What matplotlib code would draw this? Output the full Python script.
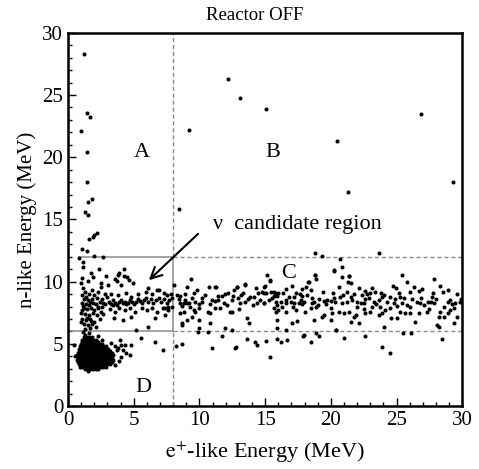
import matplotlib
matplotlib.use("Agg")
import matplotlib.pyplot as plt

plt.rcParams["font.family"] = ["Liberation Serif", "DejaVu Serif"]
plt.rcParams["mathtext.fontset"] = "stix"

# ---- event lists: (e+-like energy, n-like energy) in MeV ----
high_a_points = [
    (1.24, 28.3), (1.47, 23.55), (1.68, 23.2), (0.97, 22.15), (1.47, 20.45),
    (1.42, 18.0), (1.5, 16.4), (1.8, 16.65), (1.3, 15.6), (1.55, 15.35),
    (2.18, 13.95), (2.0, 13.75), (1.88, 13.57), (1.62, 13.4),
    (1.04, 12.6), (1.47, 12.5), (2.0, 12.07), (2.69, 11.96),
    (0.86, 11.88), (1.12, 11.56), (1.17, 11.2),
]

high_b_points = [
    (12.2, 26.3), (13.05, 24.8), (15.08, 23.9), (26.86, 23.5), (9.2, 22.2),
    (20.5, 21.3), (29.3, 18.0), (21.3, 17.2), (8.48, 15.85),
    (18.81, 12.34), (19.32, 12.07), (23.63, 12.34), (20.72, 11.8),
    (20.84, 11.21), (20.26, 10.94),
]

band_a_points = [
    (2.39, 11.0), (4.26, 11.0), (2.9, 10.46), (3.83, 10.54), (4.47, 10.35),
    (1.04, 10.27), (1.5, 10.08), (3.71, 10.08), (1.9, 10.4), (1.78, 10.67),
    (2.54, 9.87), (3.05, 9.73), (3.55, 10.19), (3.86, 10.67), (4.06, 9.73),
    (4.26, 10.46), (4.64, 10.14), (4.97, 9.87), (6.12, 9.52), (6.75, 9.33),
    (1.0, 9.9), (1.15, 9.5), (1.3, 9.2), (1.05, 8.9), (1.4, 8.8), (1.6, 9.0),
    (1.25, 8.6), (1.5, 8.5), (1.8, 8.6), (2.0, 8.9), (2.2, 8.7), (1.1, 8.3),
    (1.35, 8.2), (1.6, 8.1), (1.9, 8.3), (2.1, 8.2), (2.4, 8.4), (2.6, 8.6),
    (1.2, 7.9), (1.45, 7.8), (1.75, 7.9), (2.0, 7.7), (2.3, 7.9), (2.55, 8.0),
    (2.8, 8.2), (1.0, 7.5), (1.3, 7.4), (1.6, 7.3), (1.9, 7.5), (2.2, 7.3),
    (2.5, 7.6), (1.1, 7.0), (1.4, 6.9), (1.7, 7.0), (2.0, 6.8), (2.4, 7.0),
    (1.2, 6.6), (1.5, 6.5), (1.8, 6.6), (1.3, 6.2), (1.65, 6.25), (2.1, 6.4),
    (0.95, 6.8), (2.7, 7.4), (1.85, 9.3), (2.3, 9.2), (2.5, 9.6), (2.8, 9.0),
    (3.0, 8.8),
    (3.1, 8.4), (3.25, 8.2), (3.4, 8.5), (3.55, 8.3), (3.7, 8.1), (3.85, 8.35),
    (4.0, 8.5), (4.15, 8.25), (4.3, 8.4), (4.45, 8.2), (4.6, 8.3), (4.75, 8.5),
    (4.9, 8.35), (5.05, 8.2), (5.2, 8.4), (5.35, 8.6), (5.5, 8.45), (5.65, 8.3),
    (5.8, 8.5), (5.95, 8.7), (6.1, 8.4), (6.3, 8.6), (6.5, 8.3), (6.7, 8.5),
    (6.9, 8.7), (7.1, 8.4), (7.3, 8.6), (7.5, 8.3), (7.7, 8.5), (7.9, 8.7),
    (3.2, 7.8), (3.6, 7.6), (3.9, 7.9), (4.3, 7.7), (4.7, 7.9), (5.1, 7.6),
    (5.6, 7.9), (6.0, 7.7), (6.4, 7.9), (6.8, 7.6), (7.2, 7.9), (7.6, 7.7),
    (3.3, 9.0), (3.8, 8.9), (4.4, 9.1), (4.8, 8.8), (5.3, 9.0), (5.9, 9.2),
    (6.4, 9.0), (6.9, 9.3), (7.3, 9.1), (7.8, 9.0),
    (3.5, 7.1), (4.2, 6.9), (4.8, 7.2), (6.6, 7.1), (7.4, 7.3), (5.2, 6.1),
    (6.1, 6.4), (1.15, 8.05), (1.7, 8.35), (2.25, 8.0), (1.45, 7.1),
    (1.75, 6.85), (1.05, 7.7), (2.65, 8.3), (3.45, 8.1),
]

band_c_points = [
    (9.37, 10.19), (8.10, 9.73), (9.04, 9.55), (10.74, 9.55), (11.15, 9.55),
    (11.25, 9.55), (12.85, 9.55), (13.48, 9.73), (15.0, 9.65), (11.96, 9.01),
    (12.21, 9.12), (13.35, 9.12), (13.18, 8.93), (14.45, 9.12), (14.75, 9.2),
    (13.86, 8.8), (14.19, 8.8), (12.59, 8.85), (12.47, 8.53), (11.45, 8.85),
    (11.71, 8.85), (10.94, 8.53), (11.15, 8.47), (11.45, 8.53), (10.18, 8.66),
    (10.23, 8.34), (9.42, 8.66), (9.67, 8.39), (9.93, 8.21), (8.91, 8.53),
    (9.04, 8.26), (9.17, 8.26), (9.29, 7.99), (8.41, 8.58), (8.53, 8.26),
    (8.79, 8.26), (8.66, 8.04), (7.52, 8.93), (7.39, 7.86), (7.64, 7.99),
    (7.9, 7.94), (8.28, 8.93), (8.53, 8.85), (8.53, 7.45), (8.79, 7.59),
    (9.55, 7.72), (9.67, 7.59), (8.66, 6.65), (9.42, 7.19), (9.93, 6.92),
    (10.69, 7.59), (10.82, 7.45), (11.58, 7.86), (12.34, 7.59), (12.47, 7.59),
    (13.1, 8.26), (13.48, 8.39), (11.96, 6.25), (13.61, 7.05), (13.74, 6.65),
    (14.37, 8.26), (14.95, 8.26), (9.93, 6.25), (10.82, 6.7), (12.47, 6.11),
    (8.66, 6.5), (9.05, 6.9),
    (15.13, 10.54), (15.39, 10.08), (18.81, 10.54), (18.89, 10.19), (18.3, 10.0),
    (21.35, 10.46), (21.27, 10.0), (13.48, 9.82), (12.85, 9.55), (14.88, 9.12),
    (15.64, 9.2),
    (18.79, 10.54), (20.24, 10.89), (20.82, 10.35), (21.38, 10.46),
    (15.34, 10.14), (18.33, 10.0), (21.5, 9.87), (17.06, 9.65), (18.08, 9.6),
    (18.46, 9.33), (14.91, 9.55), (15.03, 9.06), (15.41, 9.2), (15.74, 9.12),
    (16.0, 9.12), (16.35, 9.12), (15.67, 8.85), (15.92, 8.85), (17.32, 9.12),
    (17.62, 9.01), (17.83, 8.85), (17.19, 8.8), (14.91, 8.26), (15.29, 8.53),
    (15.8, 8.39), (15.92, 8.13), (16.56, 8.53), (16.61, 8.26), (16.94, 8.39),
    (17.19, 8.26), (17.57, 8.31), (17.83, 8.21), (17.95, 8.39), (18.59, 8.66),
    (18.54, 8.26), (18.71, 8.39), (18.84, 7.99), (18.46, 7.86), (19.48, 8.47),
    (19.73, 8.53), (19.98, 8.47), (20.24, 8.66), (20.16, 9.06), (20.62, 9.6),
    (20.67, 8.8), (20.87, 8.26), (21.25, 8.39), (21.5, 8.8), (21.76, 9.01),
    (22.14, 9.47), (22.01, 8.39), (22.27, 8.26), (15.67, 7.86), (15.8, 7.59),
    (16.56, 7.59), (17.32, 7.72), (16.3, 7.94), (19.35, 7.19), (19.48, 7.32),
    (19.98, 7.86), (20.11, 7.45), (20.62, 7.59), (21.0, 7.45), (21.38, 7.59),
    (21.76, 7.19), (15.92, 6.92), (17.06, 6.65), (17.45, 6.87), (18.71, 6.92),
    (19.98, 6.92), (21.5, 6.79), (21.89, 7.32), (15.92, 6.25), (16.56, 6.11),
    (18.84, 5.85), (20.36, 6.11), (22.14, 6.65), (17.95, 5.71),
    (25.41, 10.54), (27.87, 10.19), (25.79, 10.0), (24.73, 9.65), (24.98, 9.47),
    (26.3, 9.55), (26.94, 9.39), (26.68, 9.28), (28.28, 9.65), (28.53, 9.2),
    (22.62, 9.28), (23.0, 9.12), (23.38, 9.2), (23.81, 9.12), (24.02, 8.93),
    (22.37, 8.93), (22.75, 9.01), (25.16, 9.12), (25.24, 8.8), (24.52, 8.8),
    (27.77, 9.06), (27.7, 8.8), (27.62, 8.39), (27.82, 8.26), (29.6, 9.01),
    (29.85, 8.39), (29.47, 8.26), (28.89, 8.39), (29.04, 8.53), (22.62, 8.58),
    (23.26, 8.39), (23.64, 8.53), (22.49, 8.26), (23.13, 7.99), (24.78, 8.26),
    (25.03, 8.04), (25.41, 8.26), (25.79, 8.13), (26.05, 7.99), (26.55, 8.39),
    (26.81, 8.26), (27.06, 8.13), (23.76, 7.99), (24.14, 7.72), (22.62, 7.45),
    (23.0, 7.59), (23.64, 7.32), (23.89, 7.51), (25.29, 7.59), (25.67, 7.45),
    (26.0, 7.51), (26.68, 7.45), (27.32, 7.59), (28.33, 7.59), (28.89, 7.51),
    (29.09, 7.72), (29.6, 7.19), (28.2, 7.19), (28.59, 7.13), (24.57, 7.05),
    (25.03, 7.05), (26.43, 6.79), (28.08, 6.52), (29.35, 6.7), (24.07, 6.38),
    (28.2, 6.38), (25.49, 5.9), (26.12, 5.9),
    (8.9, 9.0), (9.6, 9.1), (10.4, 8.9), (10.8, 8.2), (11.9, 8.3), (12.1, 8.1),
    (12.9, 8.7), (13.7, 8.6), (14.1, 8.1), (14.6, 8.5), (15.5, 8.7),
    (16.2, 8.4), (16.8, 8.8), (17.1, 8.0), (17.7, 8.5), (18.2, 8.9),
    (19.1, 8.6), (19.6, 8.2), (20.3, 8.4), (20.9, 8.9), (21.6, 8.5),
    (22.0, 8.0), (22.9, 8.7), (23.4, 8.2), (23.9, 8.8), (24.3, 8.4),
    (24.9, 8.6), (25.6, 8.7), (26.2, 8.6), (26.9, 8.7), (27.4, 8.4),
    (28.0, 8.6), (28.6, 8.0), (29.2, 8.2), (29.9, 8.6), (10.0, 7.9),
    (11.2, 7.9), (13.0, 7.8), (16.0, 7.7), (18.0, 7.6), (19.0, 8.1),
    (22.5, 7.8), (24.5, 7.9), (27.5, 7.8), (29.4, 7.9), (9.8, 9.3),
    (12.6, 9.3), (16.6, 9.4), (19.4, 9.2), (23.1, 9.5), (26.0, 9.2),
    (28.9, 9.3), (21.2, 9.2), (14.3, 9.5), (17.8, 9.4),
]

low_points = [
    (8.2, 4.83), (8.66, 4.96), (10.94, 4.69), (11.7, 5.63), (12.72, 4.69),
    (13.61, 5.39), (14.24, 5.18), (14.37, 4.91), (15.03, 5.26), (15.92, 5.36),
    (16.18, 5.18), (18.46, 5.18), (21.0, 5.44), (15.34, 3.92), (22.62, 5.63),
    (23.89, 4.72), (24.52, 4.29), (28.46, 5.36), (12.8, 4.72), (16.65, 5.31),
    (17.92, 5.63), (19.07, 5.63), (20.41, 6.1), (9.9, 5.98), (10.66, 5.98),
    (3.93, 5.31), (4.06, 4.91), (4.82, 4.91), (5.58, 5.44), (6.65, 5.18),
    (7.23, 4.5),
]

# dense low-energy cluster, listed row by row: n-like energy and the
# e+-like energies recorded at it
blob_row_energies = [3.0, 3.18, 3.36, 3.54, 3.72, 3.9, 4.08, 4.26, 4.44,
                     4.62, 4.8, 4.98, 5.16, 5.34, 5.52]
blob_row_positrons = [
    [1.3, 1.5, 1.7, 1.9, 2.1, 2.3],
    [0.9, 1.1, 1.3, 1.5, 1.7, 1.9, 2.1, 2.3, 2.5, 2.7, 2.9],
    [0.8, 1.0, 1.2, 1.4, 1.6, 1.8, 2.0, 2.2, 2.4, 2.6, 2.8, 3.0, 3.2],
    [0.75, 0.95, 1.15, 1.35, 1.55, 1.75, 1.95, 2.15, 2.35, 2.55, 2.75,
     2.95, 3.15, 3.35],
    [0.7, 0.9, 1.1, 1.3, 1.5, 1.7, 1.9, 2.1, 2.3, 2.5, 2.7, 2.9, 3.1,
     3.3, 3.45],
    [0.75, 0.95, 1.15, 1.35, 1.55, 1.75, 1.95, 2.15, 2.35, 2.55, 2.75,
     2.95, 3.15, 3.35],
    [0.7, 0.9, 1.1, 1.3, 1.5, 1.7, 1.9, 2.1, 2.3, 2.5, 2.7, 2.9, 3.1,
     3.3, 3.45],
    [0.75, 0.95, 1.15, 1.35, 1.55, 1.75, 1.95, 2.15, 2.35, 2.55, 2.75,
     2.95, 3.15, 3.35],
    [0.8, 1.0, 1.2, 1.4, 1.6, 1.8, 2.0, 2.2, 2.4, 2.6, 2.8, 3.0, 3.2],
    [0.85, 1.05, 1.25, 1.45, 1.65, 1.85, 2.05, 2.25, 2.45, 2.65, 2.85, 3.05],
    [0.9, 1.1, 1.3, 1.5, 1.7, 1.9, 2.1, 2.3, 2.5, 2.7, 2.9],
    [1.0, 1.2, 1.4, 1.6, 1.8, 2.0, 2.2, 2.4, 2.6],
    [1.05, 1.25, 1.45, 1.65, 1.85, 2.05, 2.25],
    [1.1, 1.3, 1.5, 1.7, 1.9, 2.1],
    [1.2, 1.4, 1.6, 1.8],
]

blob_fringe_points = [
    (3.81, 4.67), (4.19, 4.5), (4.44, 4.24), (4.7, 4.1), (4.06, 3.97),
    (4.31, 4.91), (0.45, 4.9), (0.5, 4.0), (3.6, 3.3), (3.7, 4.5),
    (3.55, 4.85), (1.3, 5.75), (1.6, 5.85), (2.3, 5.6), (1.15, 5.95),
    (1.55, 2.85), (2.6, 5.3), (3.3, 5.1), (3.9, 3.6),
]

x_ticks = [0, 5, 10, 15, 20, 25, 30]
y_ticks = [0, 5, 10, 15, 20, 25, 30]

fig = plt.figure(figsize=(4.79, 4.69), dpi=100)
ax = fig.add_axes([0.142, 0.134, 0.823, 0.796])

blob_points = [(x, y) for y, row in zip(blob_row_energies, blob_row_positrons)
               for x in row]

all_groups = [high_a_points, high_b_points, band_a_points, band_c_points,
              low_points, blob_points, blob_fringe_points]
for group in all_groups:
    xs = [p[0] for p in group]
    ys = [p[1] for p in group]
    ax.scatter(xs, ys, s=8.5, c="black", linewidths=0, zorder=3)

# region boundaries
grey = "#8a8a8a"
ax.plot([8, 8], [0, 6], color=grey, lw=1, ls=(0, (3, 2)), zorder=2)
ax.plot([8, 8], [12, 30], color=grey, lw=1, ls=(0, (3, 2)), zorder=2)
ax.plot([8, 30], [12, 12], color=grey, lw=1, ls=(0, (3, 2)), zorder=2)
ax.plot([8, 30], [6, 6], color=grey, lw=1, ls=(0, (3, 2)), zorder=2)
ax.plot([0.8, 8, 8], [12, 12, 6], color=grey, lw=1.1, zorder=2)
ax.plot([0, 8], [6, 6], color=grey, lw=1.1, zorder=2)

# region labels
lab = dict(fontsize=16, ha="center", va="center")
ax.text(5.6, 20.4, "A", **lab)
ax.text(15.6, 20.4, "B", **lab)
ax.text(16.8, 10.7, "C", **lab)
ax.text(5.7, 1.5, "D", **lab)

ax.text(11.0, 14.6, "ν  candidate region", fontsize=16, ha="left",
        va="center")
ax.annotate("", xy=(6.0, 9.97), xytext=(10.05, 14.0),
            arrowprops=dict(arrowstyle="->,head_length=0.8,head_width=0.4",
                            color="black", lw=1.5))

ax.set_xlim(0, 30)
ax.set_ylim(0, 30)
ax.set_xticks(x_ticks)
ax.set_yticks(y_ticks)
ax.set_xticks(range(0, 31), minor=True)
ax.set_yticks(range(0, 31), minor=True)
ax.tick_params(which="both", direction="in", top=False, right=False,
               labelsize=15, width=1)
ax.tick_params(which="major", length=6)
ax.tick_params(which="minor", length=3)
for sp in ax.spines.values():
    sp.set_linewidth(1.8)

ax.set_xlabel(r"$\mathrm{e}^{+}$-like Energy (MeV)", fontsize=16, labelpad=7)
ax.set_ylabel("n-like Energy (MeV)", fontsize=15, labelpad=4)

fig.text(255 / 479, 1 - 16 / 469, "Reactor OFF", fontsize=13.5, ha="center",
         va="center")

fig.savefig("out.png", dpi=100)
